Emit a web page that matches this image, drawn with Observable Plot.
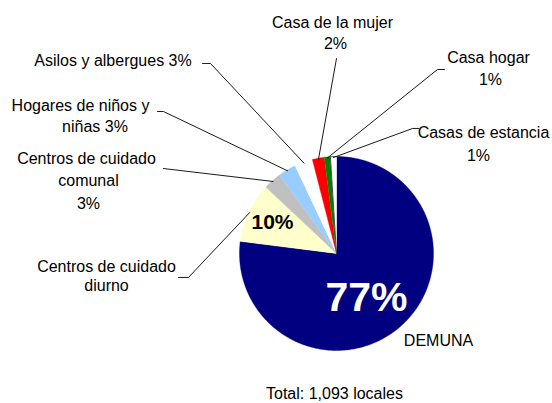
<!DOCTYPE html>
<html><head><meta charset="utf-8">
<script src="https://cdn.jsdelivr.net/npm/d3@7"></script>
<script src="https://cdn.jsdelivr.net/npm/@observablehq/plot@0.6"></script>
<style>body{margin:0;background:#fff}#chart svg{display:block}</style>
</head><body><div id="chart"></div>
<script>
// ---- data (clockwise from 12 o'clock) ----
const categories = ["DEMUNA","Centros de cuidado diurno","Centros de cuidado comunal","Hogares de niños y niñas","Asilos y albergues","Casa de la mujer","Casa hogar","Casas de estancia"];
const percents = [77, 10, 3, 3, 3, 2, 1, 1];
const sliceColors = ["#000080","#FFFFCC","#C0C0C0","#99CCFF","#FFFFFF","#FF0000","#008000","#FFFFFF"];
const totalCaption = "Total: 1,093 locales";

// label text lines (one entry per printed line)
const labelLines = ["Asilos y albergues 3%","Hogares de niños y","niñas 3%","Centros de cuidado","comunal","3%","Centros de cuidado","diurno","Casa de la mujer","2%","Casa hogar","1%","Casas de estancia","1%","DEMUNA",totalCaption];
// layout (units of pie radius, origin at pie centre, y up)
const labelPos = [[-2.304,1.990],[-2.639,1.526],[-2.490,1.309],[-2.577,0.979],[-2.557,0.753],[-2.557,0.515],[-2.371,-0.134],[-2.371,-0.330],[-0.041,2.381],[-0.010,2.165],[1.567,2.021],[1.588,1.794],[1.515,1.247],[1.464,1.010],[1.052,-0.897],[-0.021,-1.445]];
// leader line elbow points per category (null = no leader)
const leaderPts = [null,[[-1.629,-0.247],[-1.526,-0.247]],[[-1.784,0.876]],[[-1.845,1.464],[-1.784,1.464]],[[-1.381,1.959],[-1.299,1.959]],[[0,2.010]],[[1.113,1.897],[1.041,1.897]],[[0.845,1.289],[0.784,1.289]]];
const inLabels = [{t:"77%", x:0.309, y:-0.454, size:41, fill:"#fff"},{t:"10%", x:-0.660, y:0.320, size:21, fill:"#000"}];

// ---- geometry from values ----
const arcs = d3.pie().sort(null).value(d => d)(percents);
const slicePts = [];
arcs.forEach((a, i) => {
  const name = categories[i];
  slicePts.push({name, x: 0, y: 0});
  const n = Math.max(2, Math.ceil((a.endAngle - a.startAngle) / 0.01));
  for (let k = 0; k <= n; k++) {
    const t = a.startAngle + (a.endAngle - a.startAngle) * k / n;
    slicePts.push({name, x: Math.sin(t), y: Math.cos(t)});
  }
});
const leaders = [];
arcs.forEach((a, i) => {
  if (!leaderPts[i]) return;
  const m = (a.startAngle + a.endAngle) / 2;
  leaderPts[i].forEach(p => leaders.push({k: i, x: p[0], y: p[1]}));
  leaders.push({k: i, x: Math.sin(m) * 0.99, y: Math.cos(m) * 0.99});
});
const labels = labelLines.map((t, i) => ({t, x: labelPos[i][0], y: labelPos[i][1]}));

const W = 552, H = 403, R = 97, CX = 336, CY = 253;
const chart = Plot.plot({
  width: W, height: H, margin: 0,
  style: {fontFamily: "'Liberation Sans', Arial, sans-serif", background: "#fff"},
  x: {domain: [-CX / R, (W - CX) / R], range: [0, W], axis: null},
  y: {domain: [-(H - CY) / R, CY / R], range: [H, 0], axis: null},
  color: {domain: categories, range: sliceColors},
  marks: [
    Plot.line(slicePts, {x: "x", y: "y", z: "name", fill: "name", stroke: "name", strokeWidth: 0.4}),
    Plot.line(slicePts.filter(d => d.name === "Casas de estancia"), {x: "x", y: "y", fill: "#fff", stroke: "#000", strokeWidth: 0.7}),
    Plot.line(leaders, {x: "x", y: "y", z: "k", stroke: "#000", strokeWidth: 0.9}),
    Plot.text(labels, {x: "x", y: "y", text: "t", fontSize: 16, fill: "#000"}),
    Plot.text(inLabels, {x: "x", y: "y", text: "t", fontSize: d => d.size, fill: d => d.fill, fontWeight: "bold"})
  ]
});
document.getElementById("chart").appendChild(chart);
</script>
</body></html>
